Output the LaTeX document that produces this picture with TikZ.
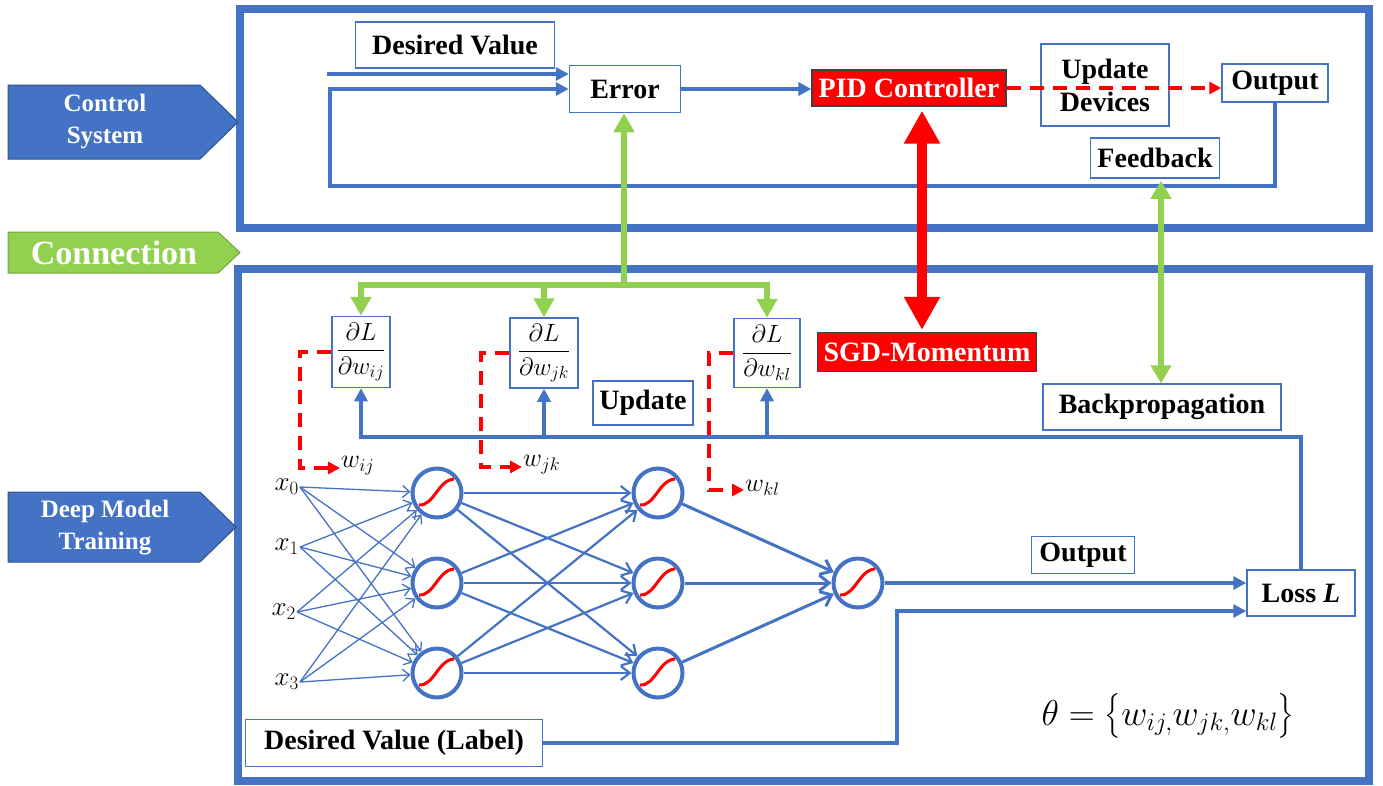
\RequirePackage{fix-cm}
\documentclass[tikz,border=0pt]{standalone}
\usepackage{amsmath}
\usepackage{fontspec}
\setmainfont{Liberation Serif}
\usetikzlibrary{arrows.meta,calc}
\definecolor{bl}{HTML}{4472C4}
\definecolor{gr}{HTML}{92D050}
\definecolor{rd}{HTML}{FF0000}
\definecolor{tagedge}{HTML}{2F528F}
\begin{document}
\begin{tikzpicture}[x=1pt,y=-1pt,
  lbl/.style={draw=bl, line width=1.5pt, fill=white, inner sep=0pt, align=center,
    font=\bfseries\fontsize{28}{33}\selectfont},
  hot/.style={draw=black!75, line width=1.2pt, fill=rd, text=white, inner sep=0pt,
    font=\bfseries\fontsize{28}{32}\selectfont},
  fracbox/.style={draw=bl, line width=1.5pt, fill=white, inner sep=0pt,
    font=\fontsize{25}{29}\selectfont},
  frame/.style={draw=bl, line width=8pt},
  wire/.style={draw=bl, line width=3.5pt},
  thickwire/.style={draw=bl, line width=4.5pt},
  tri/.style={-{Triangle[length=13pt,width=13pt]}},
  gline/.style={draw=gr, line width=6pt},
  gtri/.style={-{Triangle[length=19pt,width=20pt]}},
  gboth/.style={{Triangle[length=18pt,width=20pt]}-{Triangle[length=18pt,width=20pt]}},
  rboth/.style={draw=rd, line width=10pt,
    {Triangle[length=33pt,width=34pt]}-{Triangle[length=33pt,width=34pt]}},
  rdash/.style={draw=rd, line width=4pt, dash pattern=on 14pt off 9pt,
    -{Triangle[length=12pt,width=12pt]}},
  tag/.style={fill=bl, draw=tagedge, line width=1pt},
  tagtext/.style={text=white, align=center, font=\bfseries\fontsize{25}{32}\selectfont},
  neuron/.style={circle, draw=bl, line width=4pt, fill=white, minimum size=49pt, inner sep=0pt},
  sig/.style={draw=rd, line width=3pt},
  inp/.style={anchor=east, inner sep=1pt, font=\fontsize{27}{31}\selectfont},
  wlab/.style={anchor=west, inner sep=1pt, font=\fontsize{26}{30}\selectfont},
  e1/.style={draw=bl, line width=1.3pt, -{Straight Barb[length=7pt,width=12pt]}},
  e2/.style={draw=bl, line width=2.2pt, -{Straight Barb[length=9pt,width=14pt]}},
  e3/.style={draw=bl, line width=3pt, -{Straight Barb[length=10pt,width=16pt]}}
]
\useasboundingbox (0,0) rectangle (1383,785);

% outer frames of the two sections
\draw[frame] (240,9) rectangle (1369,228);
\draw[frame] (238,269) rectangle (1369,781);

% section tags on the left
\draw[tag] (8,85) -- (200,85) -- (238,122) -- (200,159) -- (8,159) -- cycle;
\node[tagtext] (tagctrl) at (105,122) {Control\\System};
\draw[tag, fill=gr, draw=gr!80!black] (8,232) -- (218,232) -- (240,252.5) -- (218,273) -- (8,273) -- cycle;
\node[tagtext, font=\bfseries\fontsize{34}{38}\selectfont] (tagconn) at (114,253) {Connection};
\draw[tag] (8,492) -- (200,492) -- (236,527) -- (200,562) -- (8,562) -- cycle;
\node[tagtext] (tagdeep) at (105,528) {Deep Model\\Training};

% ---- control loop ----
\node[lbl, minimum width=199pt, minimum height=46pt] (desired) at (455,45) {Desired Value};
\node[lbl, minimum width=111pt, minimum height=47pt] (error) at (625,89) {Error};
\node[hot, minimum width=194pt, minimum height=36pt] (pid) at (909,88) {PID Controller};
\node[lbl, minimum width=128pt, minimum height=82pt] (devices) at (1105,85) {Update\\Devices};
\node[lbl, minimum width=106pt, minimum height=38pt] (out1) at (1275,83) {Output};
\node[lbl, minimum width=129pt, minimum height=40pt] (fb) at (1155,158) {Feedback};

% ---- training loop ----
\node[fracbox, minimum width=58pt, minimum height=71pt] (dij) at (361,352) {$\dfrac{\partial L}{\partial w_{ij}}$};
\node[fracbox, minimum width=68pt, minimum height=70pt] (djk) at (544,353) {$\dfrac{\partial L}{\partial w_{jk}}$};
\node[fracbox, minimum width=66pt, minimum height=69pt] (dkl) at (767,353) {$\dfrac{\partial L}{\partial w_{kl}}$};
\node[lbl, minimum width=100pt, minimum height=44pt] (update) at (643,403) {Update};
\node[hot, minimum width=219pt, minimum height=39pt] (sgd) at (927,352) {SGD-Momentum};
\node[lbl, minimum width=238pt, minimum height=46pt] (bp) at (1162,407) {Backpropagation};
\node[lbl, minimum width=103pt, minimum height=37pt] (outlbl) at (1083,555) {Output};
\node[lbl, minimum width=108pt, minimum height=46pt] (loss) at (1301,593) {Loss \textit{L}};
\node[lbl, minimum width=297pt, minimum height=47pt] (dvl) at (394,743) {Desired Value (Label)};
\node[font=\fontsize{36}{40}\selectfont] (theta) at (1168,716)
  {$\theta = \bigl\{w_{ij,}w_{jk,}w_{kl}\bigr\}$};

% weight labels
\node[wlab] (wij) at (340,466) {$w_{ij}$};
\node[wlab] (wjk) at (522,465) {$w_{jk}$};
\node[wlab] (wkl) at (744,488) {$w_{kl}$};

% network
\node[inp] (x0) at (300,487) {$x_0$};
\node[inp] (x1) at (300,547) {$x_1$};
\node[inp] (x2) at (297,612) {$x_2$};
\node[inp] (x3) at (300,682) {$x_3$};
\node[neuron] (h1a) at (437,493) {};
\node[neuron] (h1b) at (437,583) {};
\node[neuron] (h1c) at (437,673) {};
\node[neuron] (h2a) at (658,493) {};
\node[neuron] (h2b) at (658,583) {};
\node[neuron] (h2c) at (658,673) {};
\node[neuron] (o) at (858,583) {};
\foreach \n in {h1a,h1b,h1c,h2a,h2b,h2c,o}
  \draw[sig] ([shift={(-18,12)}]\n.center) .. controls ([shift={(-3,13)}]\n.center)
    and ([shift={(1,-13)}]\n.center) .. ([shift={(17,-14)}]\n.center);
\foreach \i in {x0,x1,x2,x3}
  \foreach \j in {h1a,h1b,h1c}
    \draw[e1] (\i.east) -- (\j);
\foreach \i in {h1a,h1b,h1c}
  \foreach \j in {h2a,h2b,h2c}
    \draw[e2] (\i) -- (\j);
\foreach \i in {h2a,h2b,h2c}
  \draw[e3] (\i) -- (o);

% control loop wiring
\coordinate (dvin) at (327,74);
\coordinate (fbL) at (330,186);
\draw[wire, tri] (dvin) -- (dvin -| error.west);
\draw[wire, tri] (out1.south) |- (fbL) |- (error.west);
\draw[wire, tri] (error.east) -- (error.east -| pid.west);
\draw[rdash] (pid.east) -- (pid.east -| out1.west);

% training loop wiring
\coordinate (bar) at (361,437);
\coordinate (lj) at (897,611);
\draw[wire, line width=4pt, tri] (o.east) -- (o.east -| loss.west);
\draw[wire, line width=4pt, tri] (dvl.east) -| (lj) -- (lj -| loss.west);
\draw[thickwire, tri] (loss.north) |- (bar) -- (dij.south);
\draw[thickwire, tri] (djk.south |- bar) -- (djk.south);
\draw[thickwire, tri] (dkl.south |- bar) -- (dkl.south);

% weight update paths
\coordinate (tij) at (300,468);
\coordinate (tjk) at (481,467);
\coordinate (tkl) at (709,490);
\draw[rdash] (dij.west) -| (tij) -- (tij -| wij.west);
\draw[rdash] (djk.west) -| (tjk) -- (tjk -| wjk.west);
\draw[rdash] (dkl.west) -| (tkl) -- (tkl -| wkl.west);

% connections between the two loops
\coordinate (gj) at (624,285);
\draw[gline, gtri] (gj) -- (gj |- error.south);
\draw[gline, gtri] (gj) -| (dij.north);
\draw[gline, gtri] (gj) -| (djk.north);
\draw[gline, gtri] (gj) -| (dkl.north);
\coordinate (rx) at (922,0);
\draw[rboth, shorten <=2pt, shorten >=4pt] (sgd.north -| rx) -- (pid.south -| rx);
\coordinate (gx) at (1161,0);
\draw[gline, gboth, shorten <=2pt] (fb.south -| gx) -- (bp.north -| gx);
\end{tikzpicture}
\end{document}
